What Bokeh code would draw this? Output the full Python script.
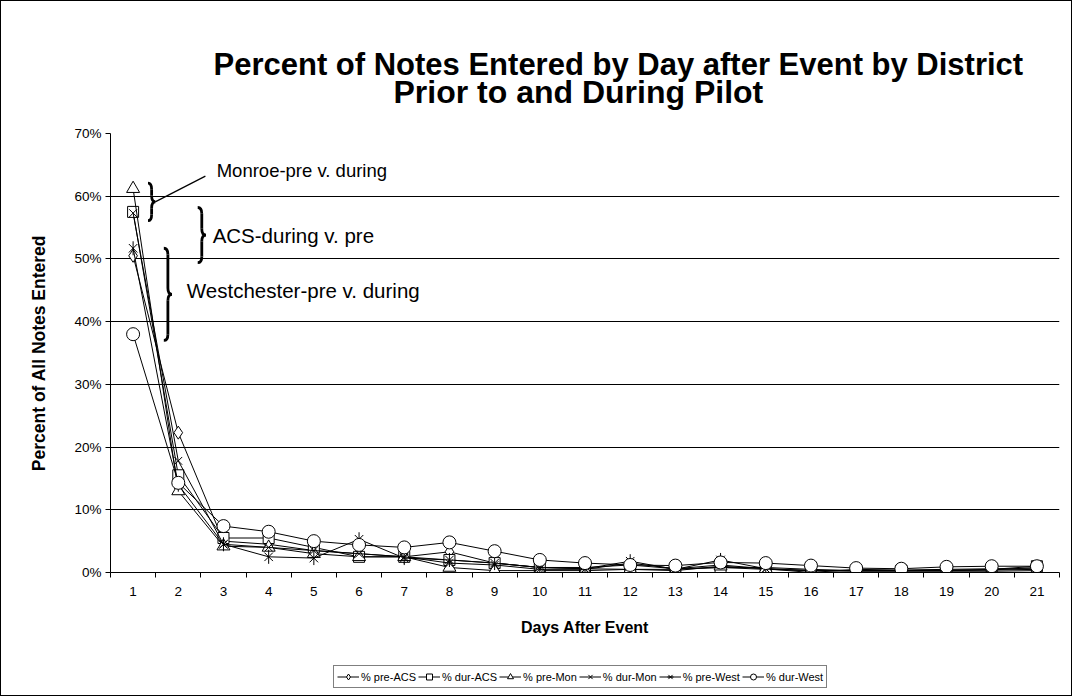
import numpy as np
from bokeh.plotting import figure
from bokeh.layouts import column
from bokeh.models import (Range1d, FixedTicker, PrintfTickFormatter, Legend, LegendItem,
                          Label, Title, ColumnDataSource)
from bokeh.embed import file_html
from bokeh.resources import INLINE

# ---------------- data ----------------
days = list(range(1, 22))
pre_acs  = [50.5, 22.3, 5.0, 4.5, 3.5, 3.0, 2.5, 3.3, 1.5, 0.8, 0.8, 1.2, 0.6, 0.8, 0.8, 0.5, 0.3, 0.3, 0.4, 0.4, 0.8]
dur_acs  = [57.5, 15.5, 5.5, 5.5, 4.0, 2.5, 2.5, 2.0, 1.5, 0.8, 0.6, 0.5, 0.5, 0.8, 0.5, 0.3, 0.3, 0.3, 0.3, 0.5, 1.0]
pre_mon  = [61.2, 13.0, 4.2, 4.0, 3.0, 2.5, 2.5, 0.8, 0.3, 0.3, 0.3, 0.5, 0.3, 1.0, 0.6, 0.3, 0.2, 0.2, 0.2, 0.2, 0.3]
dur_mon  = [57.3, 17.8, 4.5, 4.0, 3.5, 3.0, 2.5, 1.5, 1.2, 0.5, 0.5, 1.5, 0.6, 1.2, 0.6, 0.3, 0.3, 0.3, 0.3, 0.4, 0.5]
pre_west = [51.7, 14.0, 4.5, 2.5, 2.3, 5.3, 2.3, 2.0, 1.5, 0.8, 0.6, 1.8, 0.5, 2.0, 0.6, 0.0, 0.5, 0.4, 0.5, 0.6, 0.6]
dur_west = [38.0, 14.3, 7.4, 6.5, 5.0, 4.4, 4.0, 4.8, 3.4, 2.0, 1.5, 1.2, 1.1, 1.6, 1.5, 1.1, 0.7, 0.6, 0.9, 1.0, 1.0]
series_names = ["% pre-ACS", "% dur-ACS", "% pre-Mon", "% dur-Mon", "% pre-West", "% dur-West"]
y_ticks = [0, 10, 20, 30, 40, 50, 60, 70]

title_line1 = "Percent of Notes Entered by Day after Event by District"
title_line2 = "Prior to and During Pilot"
x_title = "Days After Event"
y_title = "Percent of All Notes Entered"
notes = ["Monroe-pre v. during", "ACS-during v. pre", "Westchester-pre v. during"]

FONT = "Liberation Sans"

p = figure(width=1070, height=642, x_range=Range1d(0.5, 21.5), y_range=Range1d(0, 70),
           output_backend="svg", toolbar_location=None, title=None,
           min_border_left=109, min_border_right=12, min_border_top=132, min_border_bottom=71)
p.outline_line_color = None
p.background_fill_color = "white"
p.border_fill_color = "white"

# titles (first added to a side is closest to the frame)
top_gap = Title(text=" ", text_font=FONT, text_font_size="10px", standoff=9)
t2 = Title(text=title_line2, align="left", vertical_align="top", text_font=FONT,
           text_font_size="32px", text_font_style="bold", text_color="black",
           standoff=0, offset=283)
t1 = Title(text=title_line1, align="left", vertical_align="bottom", text_font=FONT,
           text_font_size="31px", text_font_style="bold", text_color="black",
           standoff=-16, offset=103)
p.add_layout(top_gap, "above")
p.add_layout(t2, "above")
p.add_layout(t1, "above")

# axes
p.xaxis.ticker = FixedTicker(ticks=days, minor_ticks=[d - 0.5 for d in days] + [days[-1] + 0.5])
p.xaxis.major_tick_out = 0
p.xaxis.major_tick_in = 0
p.xaxis.minor_tick_out = 5
p.xaxis.minor_tick_in = 0
p.xaxis.minor_tick_line_color = "black"
p.xaxis.axis_line_color = "black"
p.xaxis.major_label_standoff = 9
p.xaxis.major_label_text_font = FONT
p.xaxis.major_label_text_font_size = "13.5px"
p.xaxis.major_label_text_color = "black"
p.xaxis.axis_label = x_title
p.xaxis.axis_label_text_font = FONT
p.xaxis.axis_label_text_font_size = "16px"
p.xaxis.axis_label_text_font_style = "bold"
p.xaxis.axis_label_text_color = "black"
p.xaxis.axis_label_standoff = 20

p.yaxis.ticker = FixedTicker(ticks=y_ticks, minor_ticks=[])
p.yaxis.formatter = PrintfTickFormatter(format="%d%%")
p.yaxis.major_tick_out = 5
p.yaxis.major_tick_in = 0
p.yaxis.major_tick_line_color = "black"
p.yaxis.axis_line_color = "black"
p.yaxis.major_label_standoff = 4
p.yaxis.major_label_text_font = FONT
p.yaxis.major_label_text_font_size = "13.5px"
p.yaxis.major_label_text_color = "black"
p.yaxis.axis_label = y_title
p.yaxis.axis_label_text_font = FONT
p.yaxis.axis_label_text_font_size = "17.5px"
p.yaxis.axis_label_text_font_style = "bold"
p.yaxis.axis_label_text_color = "black"
p.yaxis.axis_label_standoff = 22

p.xgrid.grid_line_color = None
p.ygrid.ticker = FixedTicker(ticks=y_ticks)
p.ygrid.grid_line_color = "black"
p.ygrid.grid_line_width = 1

# strip below the chart that carries the legend
pl = figure(width=1070, height=52, x_range=Range1d(-10, -5), y_range=Range1d(0, 1),
            output_backend="svg", toolbar_location=None, title=None,
            x_axis_location=None, y_axis_location=None, min_border=0)
pl.outline_line_color = None
pl.xgrid.grid_line_color = None
pl.ygrid.grid_line_color = None
pl.background_fill_color = "white"
pl.border_fill_color = "white"

# series
all_series = [pre_acs, dur_acs, pre_mon, dur_mon, pre_west, dur_west]
markers = ["diamond", "square", "triangle", "x", "star6", "circle"]
sizes = [13, 11, 13, 11, 12, 13]


def draw(fig, src, mk, sz):
    ln = fig.line("x", "y", source=src, line_color="black", line_width=1)
    rends = [ln]
    if mk == "star6":
        r1 = fig.scatter("x", "y", source=src, marker="x", size=sz, line_color="black", line_width=1)
        r2 = fig.scatter("x", "y", source=src, marker="dash", angle=np.pi / 2, size=sz + 2,
                         line_color="black", line_width=1)
        rends += [r1, r2]
    else:
        r = fig.scatter("x", "y", source=src, marker=mk, size=sz, line_color="black",
                        fill_color="white", line_width=1)
        rends.append(r)
    return rends


items = []
for name, vals, mk, sz in zip(series_names, all_series, markers, sizes):
    src = ColumnDataSource(dict(x=days, y=vals))
    draw(p, src, mk, sz)
    rends = draw(pl, src, mk, sz)   # same series in the legend strip (outside its view)
    items.append(LegendItem(label=name, renderers=rends))

legend = Legend(items=items, orientation="horizontal", location=(223, 7),
                label_text_font=FONT, label_text_font_size="11px", label_text_color="black",
                glyph_width=22, glyph_height=15, label_standoff=2, spacing=2, padding=3,
                margin=0, border_line_color="black", border_line_width=1,
                background_fill_color="white", background_fill_alpha=1)
pl.add_layout(legend, "center")


# braces + annotation texts (brace ends taken from the series they compare)
def brace(x0, w, y_top, y_bot, r=1.0):
    ym = (y_top + y_bot) / 2
    xm = x0 + w / 2
    p.quadratic(x0=[x0, xm, x0 + w, xm], y0=[y_top, ym + r, ym, y_bot + r],
                x1=[xm, x0 + w, xm, x0], y1=[y_top - r, ym, ym - r, y_bot],
                cx=[xm, xm, xm, xm], cy=[y_top, ym, ym, y_bot],
                line_color="black", line_width=2.8)
    p.segment(x0=[xm, xm], y0=[y_top - r, ym - r], x1=[xm, xm], y1=[ym + r, y_bot + r],
              line_color="black", line_width=2.8)
    return x0 + w, ym


tip1 = brace(1.33, 0.16, max(pre_mon[0], dur_mon[0]) + 0.9, min(pre_mon[0], dur_mon[0]) - 1.2)
brace(2.43, 0.18, max(pre_acs[0], dur_acs[0]) + 0.7, min(pre_acs[0], dur_acs[0]) - 1.1)
brace(1.68, 0.18, max(pre_west[0], dur_west[0]), min(pre_west[0], dur_west[0]) - 1.0)

# pointer from the Monroe note to its brace
p.segment(x0=[2.6], y0=[63.2], x1=[tip1[0]], y1=[tip1[1]], line_color="black", line_width=1.2)

note_pos = [(2.85, 64.1), (2.76, 53.7), (2.19, 45.0)]
note_sizes = ["18.5px", "20.5px", "20.5px"]
for txt, (nx, ny), fs in zip(notes, note_pos, note_sizes):
    p.add_layout(Label(x=nx, y=ny, text=txt, text_font=FONT, text_font_size=fs,
                       text_baseline="middle", text_align="left", text_color="black"))

layout = column(p, pl, spacing=0, styles={"border": "1px solid black"})
open("out.html", "w").write(file_html(layout, INLINE))
